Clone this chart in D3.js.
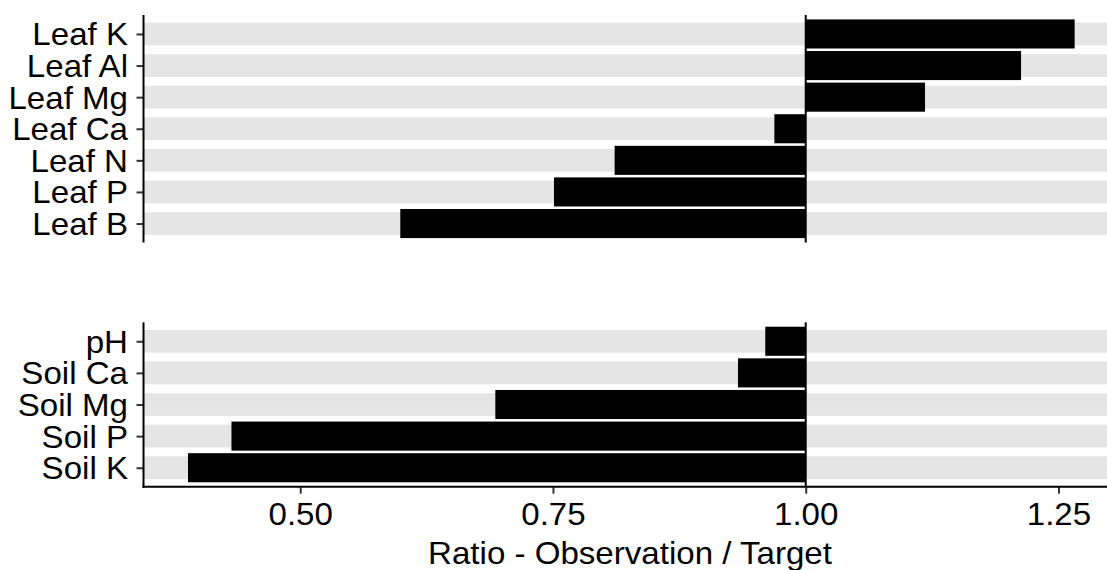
<!DOCTYPE html>
<html>
<head>
<meta charset="utf-8">
<script src="https://cdn.jsdelivr.net/npm/d3@7"></script>
<style>
html,body{margin:0;padding:0;background:#fff;}
svg{display:block;}
text{font-family:"Liberation Sans",Arial,Helvetica,sans-serif;fill:#000;}
</style>
</head>
<body>
<svg id="chart" width="1107" height="570"></svg>
<script>
const leafCats = ["Leaf K","Leaf Al","Leaf Mg","Leaf Ca","Leaf N","Leaf P","Leaf B"];
const leafVals = [1.266,1.213,1.118,0.969,0.811,0.751,0.599];
const soilCats = ["pH","Soil Ca","Soil Mg","Soil P","Soil K"];
const soilVals = [0.960,0.933,0.693,0.432,0.389];
const xTicks = [0.50,0.75,1.00,1.25];
const xTitle = "Ratio - Observation / Target";
const refValue = 1.0;

const W = 1107, H = 570;
const left = 143.5, right = 1107;
const svg = d3.select("#chart");

const x = d3.scaleLinear().domain([0.345, 1.298]).range([left, right]);

const panels = [
  {cats: leafCats, vals: leafVals, top: 15, bottom: 242.5},
  {cats: soilCats, vals: soilVals, top: 322.3, bottom: 486.7}
];

const fontSize = 30.5;
const sx = 1.085;
const ff = '"Liberation Sans",Arial,sans-serif';
const lw = 2;

panels.forEach((p, pi) => {
  const y = d3.scalePoint().domain(p.cats).range([p.top, p.bottom]).padding(0.6);
  const step = y.step();
  const g = svg.append("g");
  const data = p.cats.map((c, i) => ({c, v: p.vals[i]}));

  g.selectAll("rect.bg").data(data).enter().append("rect")
    .attr("class","bg")
    .attr("x", left)
    .attr("width", right - left)
    .attr("y", d => y(d.c) - step*0.36)
    .attr("height", step*0.72)
    .attr("fill", "#e5e5e5");

  g.selectAll("rect.bar").data(data).enter().append("rect")
    .attr("class","bar")
    .attr("x", d => Math.min(x(d.v), x(refValue)))
    .attr("width", d => Math.abs(x(d.v) - x(refValue)))
    .attr("y", d => y(d.c) - step*0.46)
    .attr("height", step*0.92)
    .attr("fill", "#000");

  g.append("line")
    .attr("x1", x(refValue)).attr("x2", x(refValue))
    .attr("y1", p.top).attr("y2", p.bottom)
    .attr("stroke", "#000").attr("stroke-width", lw);

  const yAxis = d3.axisLeft(y).tickSize(7).tickPadding(8.5);
  const ya = g.append("g").attr("transform", `translate(${left},0)`).call(yAxis);
  ya.select(".domain").remove();
  ya.selectAll(".tick line").attr("stroke", "#333").attr("stroke-width", lw);
  ya.selectAll(".tick text")
    .attr("font-size", fontSize).attr("fill", "#000").attr("font-family", ff)
    .attr("x", -15.5 / sx)
    .attr("dy", "0.36em")
    .attr("transform", `scale(${sx},1)`);
  g.append("line")
    .attr("x1", left).attr("x2", left)
    .attr("y1", p.top).attr("y2", p.bottom + (pi === 1 ? 1 : 0))
    .attr("stroke", "#000").attr("stroke-width", lw);

  if (pi === 1) {
    const xAxis = d3.axisBottom(x).tickValues(xTicks).tickFormat(d3.format(".2f")).tickSize(7).tickPadding(10);
    const xa = g.append("g").attr("transform", `translate(0,${p.bottom})`).call(xAxis);
    xa.select(".domain").remove();
    xa.selectAll(".tick line").attr("stroke", "#333").attr("stroke-width", lw);
    xa.selectAll(".tick text")
      .attr("font-size", fontSize).attr("fill", "#000").attr("font-family", ff)
      .attr("transform", `scale(${sx},1)`);
    g.append("line")
      .attr("x1", left - 1).attr("x2", right)
      .attr("y1", p.bottom).attr("y2", p.bottom)
      .attr("stroke", "#000").attr("stroke-width", lw);

    svg.append("text")
      .attr("transform", `translate(630,563.5) scale(${sx},1)`)
      .attr("text-anchor", "middle")
      .attr("font-size", fontSize)
      .text(xTitle);
  }
});
</script>
</body>
</html>
